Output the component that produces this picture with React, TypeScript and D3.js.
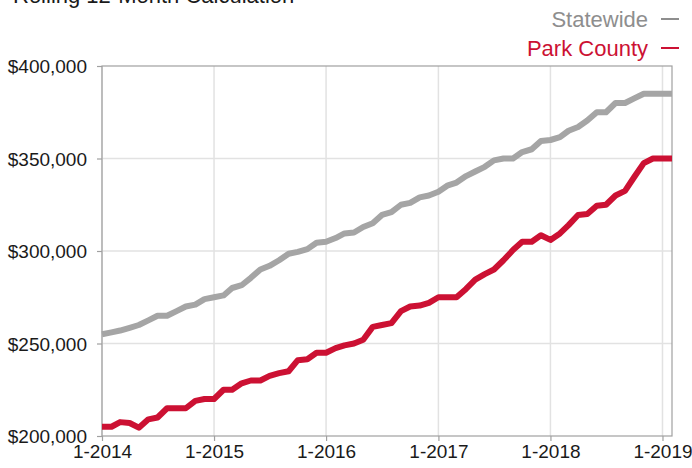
import React from "react";
import * as d3 from "d3";

// monthly points, 1-2014 through 2-2019
const months = d3.timeMonth.range(new Date(2014, 0, 1), new Date(2019, 2, 1));

// rolling 12-month median sales price, in $1000s
const statewide = [
  255, 256, 257, 258.5, 260, 262.5, 265, 265, 267.5, 270, 271, 274,
  275, 276, 280, 281.5, 285.5, 290, 292, 295, 298.5, 299.5, 301, 304.5,
  305, 307, 309.5, 310, 313, 315, 319.5, 321, 325, 326, 329, 330,
  332, 335.5, 337, 340.5, 343, 345.5, 349, 350, 350, 353.5, 355, 359.5,
  360, 361.5, 365, 367, 370.5, 375, 375, 380, 380, 382.5, 385, 385,
  385, 385,
];
const parkCounty = [
  205, 205, 207.5, 207, 204.5, 209, 210, 215, 215, 215, 219, 220,
  220, 225, 225, 228.5, 230, 230, 232.5, 234, 235, 241, 241.5, 245,
  245, 247.5, 249, 250, 252, 259, 260, 261, 267.5, 270, 270.5, 272,
  275, 275, 275, 279.5, 284.5, 287.5, 290, 295, 300.5, 305, 305, 308.5,
  306, 309.5, 314, 319.5, 320, 324.5, 325, 330, 332.5, 340, 347.5, 350,
  350, 350,
];

const yTicks = [200000, 250000, 300000, 350000, 400000];
const xTicks = [2014, 2015, 2016, 2017, 2018, 2019].map((y) => new Date(y, 0, 1));

const series = [
  { name: "Statewide", values: statewide, color: "#a5a5a5", text: "#8e8e8e" },
  { name: "Park County", values: parkCounty, color: "#cc1133", text: "#cc1133" },
];

const App = () => {
  const ref = React.useRef(null);

  React.useEffect(() => {
    const svg = d3.select(ref.current);
    svg.selectAll("*").remove();

    const width = 692,
      height = 468,
      margin = { top: 66, right: 20, bottom: 32, left: 102 };
    const font = "'Liberation Sans', Arial, sans-serif";

    const x = d3.scaleTime()
      .domain([months[0], months[months.length - 1]])
      .range([margin.left, width - margin.right]);
    const y = d3.scaleLinear()
      .domain([200000, 400000])
      .range([height - margin.bottom, margin.top]);

    // gridlines
    svg.append("g")
      .selectAll("line")
      .data(xTicks)
      .join("line")
      .attr("x1", (d) => x(d)).attr("x2", (d) => x(d))
      .attr("y1", margin.top).attr("y2", height - margin.bottom)
      .attr("stroke", "#e2e2e2").attr("stroke-width", 1.5);
    svg.append("g")
      .selectAll("line")
      .data(yTicks.slice(1, -1))
      .join("line")
      .attr("x1", margin.left).attr("x2", width - margin.right)
      .attr("y1", (d) => y(d)).attr("y2", (d) => y(d))
      .attr("stroke", "#e2e2e2").attr("stroke-width", 1.5);

    // frame
    svg.append("rect")
      .attr("x", margin.left).attr("y", margin.top)
      .attr("width", width - margin.left - margin.right)
      .attr("height", height - margin.top - margin.bottom)
      .attr("fill", "none").attr("stroke", "#a0a0a0").attr("stroke-width", 1.2);

    // lines
    const line = d3.line()
      .x((_, i) => x(months[i]))
      .y((d) => y(d * 1000));
    series.forEach((s) => {
      svg.append("path")
        .datum(s.values)
        .attr("d", line)
        .attr("fill", "none")
        .attr("stroke", s.color)
        .attr("stroke-width", 6)
        .attr("stroke-linejoin", "round");
    });

    // axes
    const yAxis = svg.append("g")
      .attr("transform", `translate(${margin.left},0)`)
      .call(d3.axisLeft(y).tickValues(yTicks).tickSize(5).tickPadding(10)
        .tickFormat((d) => "$" + d3.format(",")(d)));
    const xAxis = svg.append("g")
      .attr("transform", `translate(0,${height - margin.bottom})`)
      .call(d3.axisBottom(x).tickValues(xTicks).tickSize(5).tickPadding(4)
        .tickFormat((d) => "1-" + d.getFullYear()));
    [yAxis, xAxis].forEach((g) => {
      g.select(".domain").remove();
      g.selectAll("line").attr("stroke", "#a0a0a0").attr("stroke-width", 1.2);
      g.selectAll("text")
        .attr("font-family", font)
        .attr("font-size", 19)
        .attr("fill", "#1a1a1a");
    });
    yAxis.selectAll("text").attr("dy", "0.35em");

    // title (cropped at the top edge, as in the source image)
    svg.append("text")
      .attr("x", 13).attr("y", 3)
      .attr("font-family", font).attr("font-size", 22)
      .attr("fill", "#1a1a1a")
      .text("Rolling 12-Month Calculation");

    // legend
    const legend = svg.append("g")
      .selectAll("g")
      .data(series)
      .join("g")
      .attr("transform", (_, i) => `translate(0,${27 + i * 29})`);
    legend.append("text")
      .attr("x", 648).attr("y", 0)
      .attr("text-anchor", "end")
      .attr("font-family", font).attr("font-size", 22)
      .attr("fill", (d) => d.text)
      .text((d) => d.name);
    legend.append("line")
      .attr("x1", 661).attr("x2", 679)
      .attr("y1", -8).attr("y2", -8)
      .attr("stroke", (d) => d.text).attr("stroke-width", 2);
  }, []);

  return (
    <svg
      ref={ref}
      width={692}
      height={468}
      style={{ position: "absolute", left: 0, top: 0, background: "#fff" }}
    ></svg>
  );
};

export default App;
